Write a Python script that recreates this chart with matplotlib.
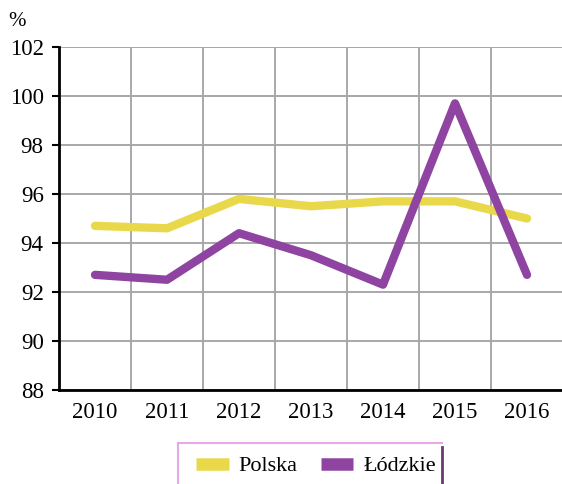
import numpy as np
import matplotlib.pyplot as plt
from matplotlib.lines import Line2D
from matplotlib.ticker import MultipleLocator, FixedLocator

plt.rcParams['font.family'] = ['Liberation Serif', 'DejaVu Serif']

# dane
lata = ['2010', '2011', '2012', '2013', '2014', '2015', '2016']
polska = [94.7, 94.6, 95.8, 95.5, 95.7, 95.7, 95.0]
lodzkie = [92.7, 92.5, 94.4, 93.5, 92.3, 99.7, 92.7]

kol_polska = '#E8D84A'
kol_lodzkie = '#8E44A0'

fig = plt.figure(figsize=(5.62, 4.84), dpi=100)
ax = fig.add_axes([59/562, 1-390/484, 504/562, 343/484])

x = np.arange(len(lata))
ax.plot(x, polska, color=kol_polska, lw=6, solid_capstyle='round', solid_joinstyle='round', zorder=3)
ax.plot(x, lodzkie, color=kol_lodzkie, lw=6, solid_capstyle='round', solid_joinstyle='round', zorder=4)

ax.set_xlim(-0.5, 6.5)
ax.set_ylim(88, 102)
ax.set_xticks(x)
ax.set_xticklabels(lata, fontsize=16.5)
ax.xaxis.set_minor_locator(FixedLocator(x[:-1] + 0.5))
ax.yaxis.set_major_locator(MultipleLocator(2))
ax.tick_params(axis='y', labelsize=16.5, length=5, width=1.5, color='black', pad=6)
ax.tick_params(axis='x', which='both', length=0, pad=9)

ax.grid(True, axis='y', which='major', color='#A8A8A8', lw=1.4)
ax.grid(True, axis='x', which='minor', color='#A8A8A8', lw=1.4)
ax.set_axisbelow(True)

for s in ['top', 'right']:
    ax.spines[s].set_visible(False)
ax.spines['left'].set_linewidth(2)
ax.spines['bottom'].set_linewidth(2)

fig.text(17/562, 1-22/484, '%', fontsize=15, ha='center', va='center')

# ramka legendy (dol ucięty)
l, r, t = 178/562, 442/562, 1-443/484
fig.add_artist(Line2D([l, r], [t, t], color='#E6A8E8', lw=1.5))
fig.add_artist(Line2D([l, l], [t, 0], color='#E6A8E8', lw=1.5))
fig.add_artist(Line2D([r, r], [1-447/484, 0], color='#6A3A70', lw=2))

uchwyty = [Line2D([0], [0], color=kol_polska, lw=9, solid_capstyle='butt'),
           Line2D([0], [0], color=kol_lodzkie, lw=9, solid_capstyle='butt')]
leg = fig.legend(uchwyty, ['Polska', 'Łódzkie'], loc='center',
                 bbox_to_anchor=(316/562, 1-466/484), ncol=2, fontsize=16,
                 frameon=False, handlelength=1.45, columnspacing=1.05,
                 handletextpad=0.45, borderaxespad=0)

fig.savefig('out.png', dpi=100)
